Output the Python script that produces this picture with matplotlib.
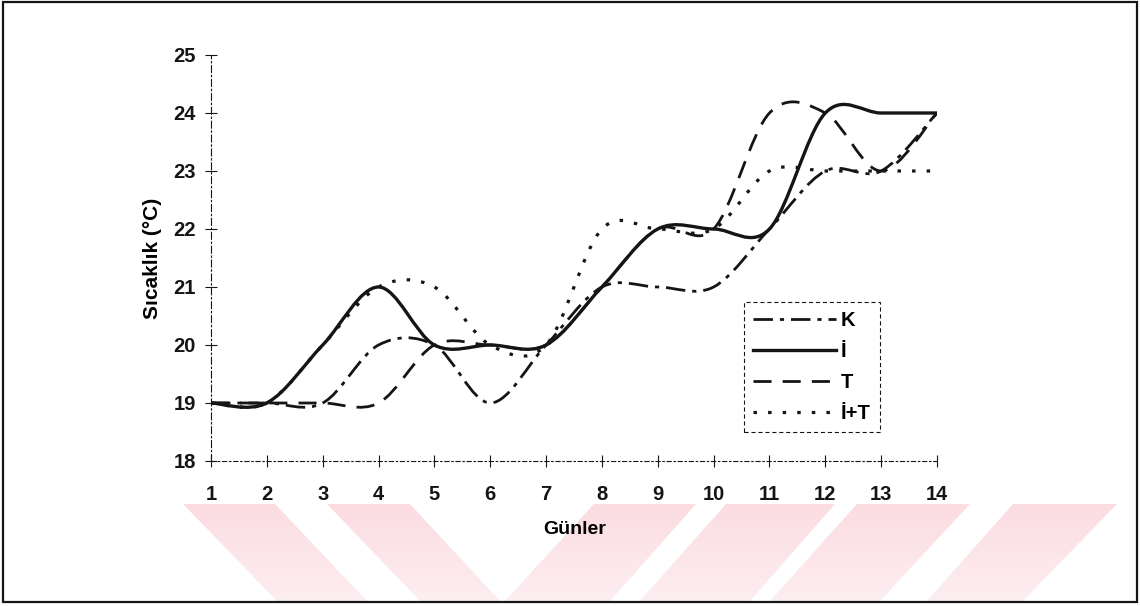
import numpy as np
import matplotlib
matplotlib.use('Agg')
import matplotlib.pyplot as plt
from matplotlib.path import Path
from matplotlib.patches import PathPatch, Rectangle
from matplotlib.lines import Line2D

# data (daily temperature, 14 days)
days = np.arange(1, 15)
k_vals = [19, 19, 19, 20, 20, 19, 20, 21, 21, 21, 22, 23, 23, 24]
i_vals = [19, 19, 20, 21, 20, 20, 20, 21, 22, 22, 22, 24, 24, 24]
t_vals = [19, 19, 19, 19, 20, 20, 20, 21, 22, 22, 24, 24, 23, 24]
it_vals = [19, 19, 20, 21, 21, 20, 20, 22, 22, 22, 23, 23, 23, 23]
series_names = ['K', 'İ', 'T', 'İ+T']
y_ticks = [18, 19, 20, 21, 22, 23, 24, 25]

plt.rcParams['font.family'] = ['Liberation Sans', 'DejaVu Sans']
plt.rcParams['font.weight'] = 'bold'
plt.rcParams['lines.scale_dashes'] = False

ink = '#151515'


def smooth_path(x, y):
    # excel-style smoothed line: cubic bezier through every point
    x = np.asarray(x, float)
    y = np.asarray(y, float)
    px = np.r_[x[0], x, x[-1]]
    py = np.r_[y[0], y, y[-1]]
    verts = [(x[0], y[0])]
    codes = [Path.MOVETO]
    for j in range(1, len(x)):
        c1 = (px[j] + (px[j + 1] - px[j - 1]) / 6, py[j] + (py[j + 1] - py[j - 1]) / 6)
        c2 = (px[j + 1] - (px[j + 2] - px[j]) / 6, py[j + 1] - (py[j + 2] - py[j]) / 6)
        verts += [c1, c2, (px[j + 1], py[j + 1])]
        codes += [Path.CURVE4] * 3
    return Path(verts, codes)


fig = plt.figure(figsize=(11.4, 6.06), dpi=100)

# background: scan watermark + outer frame, in pixel coords
bg = fig.add_axes([0, 0, 1, 1], zorder=-5)
bg.set_xlim(0, 1140)
bg.set_ylim(606, 0)
bg.axis('off')
wm_top, wm_bot = 504, 601
bands = [((183, 275), (277, 367)), ((327, 410), (420, 500)),
         ((594, 696), (505, 610)), ((726, 835), (640, 750)),
         ((857, 970), (770, 880)), ((1013, 1117), (927, 1023))]
polys = []
for (t0, t1), (b0, b1) in bands:
    polys.append(Path([(t0, wm_top), (t1, wm_top), (b1, wm_bot), (b0, wm_bot), (t0, wm_top)], closed=True))
clip = PathPatch(Path.make_compound_path(*polys), transform=bg.transData, facecolor='none', edgecolor='none')
bg.add_patch(clip)
top_c = np.array([251, 220, 225]) / 255
bot_c = np.array([253, 238, 241]) / 255
g = np.linspace(0, 1, 100)[:, None, None]
grad = top_c * (1 - g) + bot_c * g
im = bg.imshow(grad, extent=[0, 1140, wm_bot, wm_top], aspect='auto', interpolation='bilinear')
im.set_clip_path(clip)
bg.set_xlim(0, 1140)
bg.set_ylim(606, 0)
bg.add_patch(Rectangle((3, 2), 1134, 600, fill=False, edgecolor=ink, lw=1.6))

ax = fig.add_axes([211 / 1140, 1 - 461 / 606, (937 - 211) / 1140, (461 - 55) / 606])
ax.patch.set_alpha(0)

styles = [
    dict(lw=2.0, linestyle=(0, (14, 5, 3, 5))),
    dict(lw=2.4, linestyle='solid'),
    dict(lw=2.0, linestyle=(0, (13, 8))),
    dict(lw=2.3, linestyle=(0, (2.5, 8))),
]
handles = []
for vals, name, st in zip([k_vals, i_vals, t_vals, it_vals], series_names, styles):
    patch = PathPatch(smooth_path(days, vals), fill=False, edgecolor=ink,
                      lw=st['lw'], linestyle=st['linestyle'], capstyle='butt', joinstyle='round')
    ax.add_patch(patch)
    handles.append(Line2D([], [], color=ink, lw=st['lw'], linestyle=st['linestyle'],
                          dash_capstyle='butt', label=name))

ax.set_xlim(1, 14)
ax.set_ylim(18, 25)
ax.set_xticks(days)
ax.set_yticks(y_ticks)
ax.tick_params(direction='inout', length=8, width=0.8, colors=ink, labelsize=14.5)
ax.tick_params(axis='x', pad=13)
ax.tick_params(axis='y', pad=7)
for s in ['top', 'right']:
    ax.spines[s].set_visible(False)
ax.spines['left'].set_linestyle((0, (5, 2, 1, 2)))
ax.spines['bottom'].set_linestyle((0, (3, 2, 1, 2)))
for s in ['left', 'bottom']:
    ax.spines[s].set_linewidth(0.8)
    ax.spines[s].set_color(ink)

ax.set_xlabel('Günler', fontsize=14, fontweight='bold', va='center')
ax.xaxis.set_label_coords((575 - 211) / 726, -(530 - 461) / 406)
ax.set_ylabel('Sıcaklık (°C)', fontsize=15, fontweight='bold', va='center')
ax.yaxis.set_label_coords((152 - 211) / 726, (461 - 258) / 406)

leg = ax.legend(handles=handles, loc='upper left', bbox_to_anchor=(744 / 1140, 1 - 302 / 606),
                bbox_transform=fig.transFigure, borderaxespad=0, fancybox=False,
                handlelength=4.1, handletextpad=0.25, labelspacing=0.6, borderpad=0.45,
                prop={'size': 14.5, 'weight': 'bold'}, framealpha=1)
leg.get_frame().set_edgecolor(ink)
leg.get_frame().set_linewidth(0.8)
leg.get_frame().set_linestyle((0, (3, 2)))

fig.savefig('out.png', dpi=100)
